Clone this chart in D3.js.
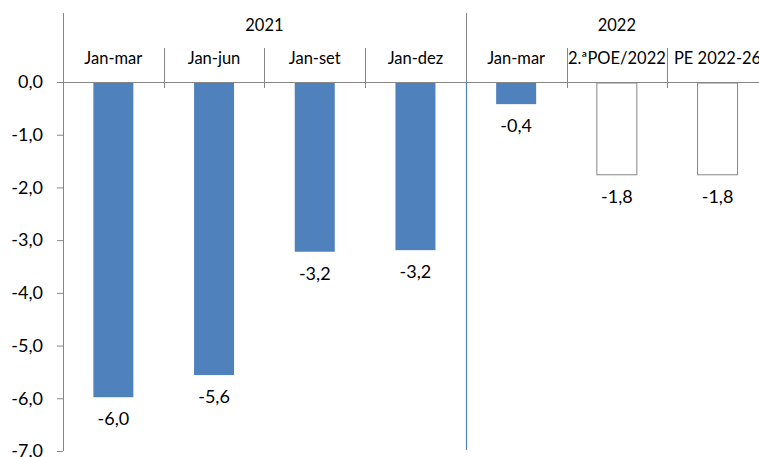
<!DOCTYPE html>
<html>
<head>
<meta charset="utf-8">
<script src="https://cdn.jsdelivr.net/npm/d3@7"></script>
<style>
  html, body { margin: 0; padding: 0; background: #fff; }
  svg { display: block; font-family: Lato, "Open Sans", sans-serif; }
</style>
</head>
<body>
<svg id="chart" width="759" height="457"></svg>
<script>
// Periods and their values (% of GDP)
const categories = ["Jan-mar", "Jan-jun", "Jan-set", "Jan-dez", "Jan-mar", "2.ªPOE/2022", "PE 2022-26"];
const keys = categories.map((c, i) => i + ":" + c);
const values = [-5.98, -5.56, -3.22, -3.19, -0.42, -1.76, -1.76];
// true = outturn (solid), false = forecast (outlined)
const outturn = [true, true, true, true, true, false, false];
const years = ["2021", "2022"];
const yearSpans = [[0, 4], [4, 7]];
const yTicks = [0, -1, -2, -3, -4, -5, -6, -7];

const svg = d3.select("#chart");
const axisColor = "#868686";
const blue = "#4F81BD";
const fmt = v => d3.format(".1f")(v).replace(".", ",").replace("−", "-");

const x0 = 63, y0 = 82;
const x = d3.scaleBand().domain(keys).range([x0, x0 + 7 * 100.7]).paddingInner(0).paddingOuter(0);
const y = d3.scaleLinear().domain([-7, 0]).range([451, y0]);
const barW = 40;

// y axis
const yAxis = d3.axisLeft(y).tickValues(yTicks).tickSize(6).tickFormat(fmt);
const gy = svg.append("g").attr("transform", `translate(${x0},0)`).call(yAxis);
gy.select(".domain").remove();
gy.selectAll(".tick line").attr("stroke", axisColor);
gy.selectAll(".tick text").attr("x", -20).attr("font-size", 18).attr("fill", "#000")
  .attr("font-family", "Lato, sans-serif");
svg.append("line").attr("x1", x0 + 0.5).attr("x2", x0 + 0.5).attr("y1", 13).attr("y2", y(-7))
  .attr("stroke", axisColor);

// horizontal zero line
svg.append("line").attr("x1", x0).attr("x2", 759).attr("y1", y(0) + 0.5).attr("y2", y(0) + 0.5)
  .attr("stroke", axisColor);

// category separators
keys.forEach((k, i) => {
  if (i === 0) return;
  const xx = Math.round(x(k)) + 0.5;
  if (i === 4) {
    svg.append("line").attr("x1", xx).attr("x2", xx).attr("y1", 13).attr("y2", y(0))
      .attr("stroke", axisColor);
    svg.append("line").attr("x1", xx).attr("x2", xx).attr("y1", y(0)).attr("y2", 450)
      .attr("stroke", blue).attr("stroke-width", 1.2);
  } else {
    svg.append("line").attr("x1", xx).attr("x2", xx).attr("y1", 48).attr("y2", y(0) + 6)
      .attr("stroke", axisColor);
  }
});

// category labels
svg.append("g").selectAll("text").data(keys).join("text")
  .attr("x", k => x(k) + x.bandwidth() / 2)
  .attr("y", 64)
  .attr("text-anchor", "middle")
  .attr("font-size", 16.5)
  .text((k, i) => categories[i]);

// year labels
svg.append("g").selectAll("text").data(years).join("text")
  .attr("x", (d, i) => (x(keys[yearSpans[i][0]]) + x(keys[yearSpans[i][1] - 1]) + x.bandwidth()) / 2)
  .attr("y", 31)
  .attr("text-anchor", "middle")
  .attr("font-size", 16.5)
  .text(d => d);

// bars
svg.append("g").selectAll("rect").data(values).join("rect")
  .attr("x", (v, i) => x(keys[i]) + (x.bandwidth() - barW) / 2)
  .attr("y", y(0) + 1)
  .attr("width", barW)
  .attr("height", v => y(v) - y(0) - 1)
  .attr("fill", (v, i) => outturn[i] ? blue : "#fff")
  .attr("stroke", (v, i) => outturn[i] ? "none" : axisColor)
  .attr("stroke-width", 1);

// value labels
svg.append("g").selectAll("text").data(values).join("text")
  .attr("x", (v, i) => x(keys[i]) + x.bandwidth() / 2)
  .attr("y", v => y(v) + 28)
  .attr("text-anchor", "middle")
  .attr("font-size", 18)
  .text(v => fmt(v));
</script>
</body>
</html>
